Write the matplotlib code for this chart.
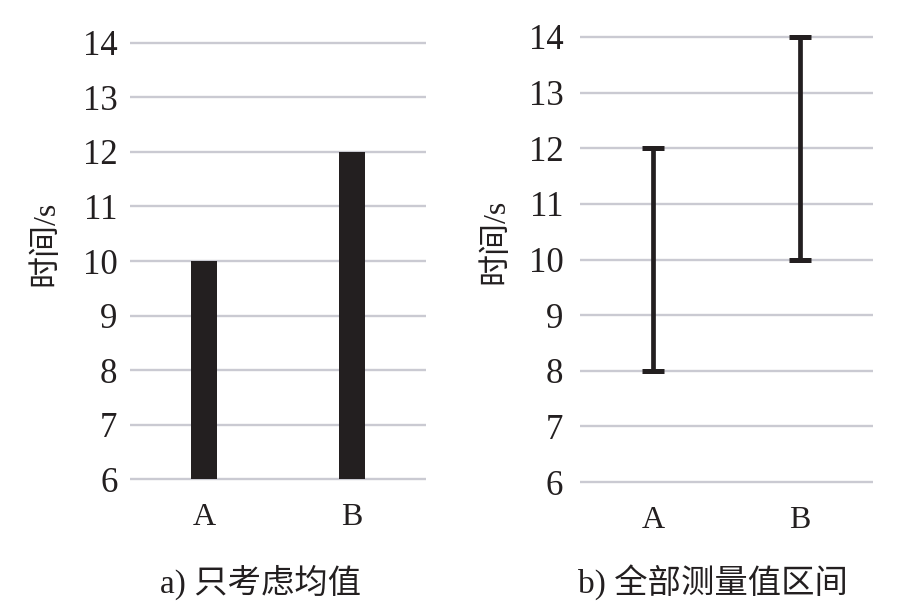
import matplotlib
matplotlib.use("Agg")
import matplotlib.pyplot as plt

plt.rcParams['font.family'] = ['Liberation Serif', 'Noto Sans CJK SC']

categories = ["A", "B"]
mean_times = [10, 12]
range_low = [8, 10]
range_high = [12, 14]
y_ticks = [6, 7, 8, 9, 10, 11, 12, 13, 14]
y_label = "时间/s"
captions = ["a) 只考虑均值", "b) 全部测量值区间"]

W, H = 897, 616
ink = "#231f20"
grid_col = "#cacad2"

fig = plt.figure(figsize=(W / 100, H / 100), dpi=100)


def px_axes(x0, x1, y_top, y_bot):
    # pixel box -> figure fraction
    return fig.add_axes([x0 / W, 1 - y_bot / H, (x1 - x0) / W, (y_bot - y_top) / H])


def style(ax, ypad):
    ax.set_xlim(-0.5, 1.5)
    ax.set_ylim(5.9, 14.1)
    ax.set_yticks(y_ticks)
    ax.set_xticks(range(len(categories)))
    ax.set_xticklabels(categories)
    ax.grid(axis="y", color=grid_col, linewidth=1.7)
    ax.set_axisbelow(True)
    for s in ax.spines.values():
        s.set_visible(False)
    ax.tick_params(axis="y", length=0, pad=ypad, labelsize=25, labelcolor=ink)
    ax.tick_params(axis="x", length=0, pad=13, labelsize=23, labelcolor=ink)


# a) means only
ax1 = px_axes(130, 426, 37.5, 484.5)
style(ax1, 9)
x = list(range(len(categories)))
ax1.bar(x, [m - 6 for m in mean_times], bottom=6, width=0.175, color=ink)
ax1.set_ylabel(y_label, fontsize=23, color=ink)
ax1.yaxis.set_label_coords(-0.236, 0.54)

# b) full measured range
ax2 = px_axes(580, 873, 31.4, 487.6)
style(ax2, 12)
mid = [(lo + hi) / 2 for lo, hi in zip(range_low, range_high)]
err = [[m - lo for m, lo in zip(mid, range_low)], [hi - m for hi, m in zip(range_high, mid)]]
ax2.errorbar(x, mid, yerr=err, fmt="none", ecolor=ink, elinewidth=3.4,
             capsize=8, capthick=3.6)
ax2.set_ylabel(y_label, fontsize=23, color=ink)
ax2.yaxis.set_label_coords(-0.239, 0.54)

fig.text(261 / W, 1 - 582 / H, captions[0], ha="center", va="center", fontsize=24, color=ink)
fig.text(713 / W, 1 - 582 / H, captions[1], ha="center", va="center", fontsize=24, color=ink)

fig.savefig("out.png", dpi=100)
